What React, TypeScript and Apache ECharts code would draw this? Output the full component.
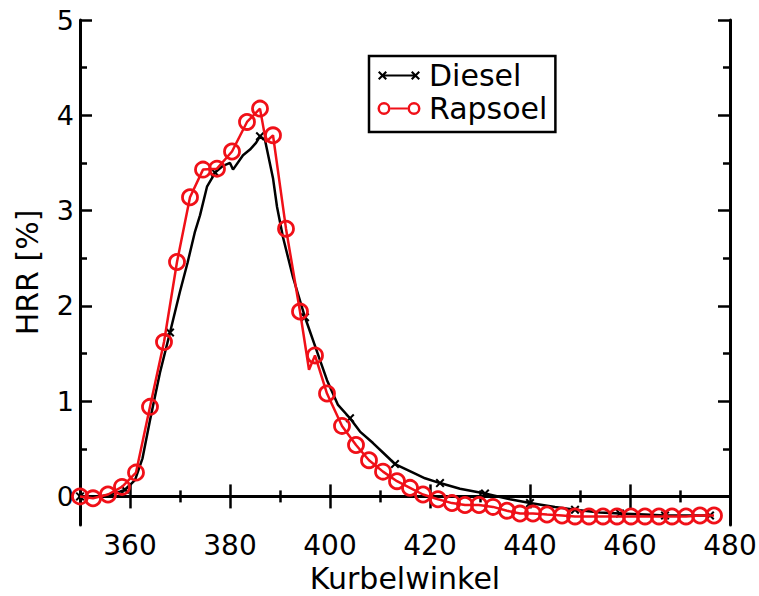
import React, { useEffect, useRef } from "react";
import * as echarts from "echarts";

// ---- data ----
const dieselAngle = [350, 352, 354, 356, 358, 359, 361, 362.5, 364, 366, 368, 370, 371.5, 373, 374, 375.4, 376.4, 377, 378.6, 380, 380.6, 382.6, 384, 385.2, 386, 387, 388.6, 389.4, 390.6, 392.6, 395, 397.4, 399.4, 401.6, 404, 406, 408.6, 411, 413, 416.6, 419, 422, 426, 431, 436, 440, 445, 449, 454, 458, 463, 467, 472, 476];
const dieselHRR = [0.0, 0.0, 0.0, 0.02, 0.05, 0.07, 0.17, 0.4, 0.8, 1.3, 1.72, 2.15, 2.45, 2.78, 2.95, 3.25, 3.34, 3.4, 3.47, 3.5, 3.43, 3.58, 3.64, 3.71, 3.78, 3.74, 3.34, 3.04, 2.72, 2.3, 1.88, 1.52, 1.22, 0.96, 0.82, 0.68, 0.56, 0.44, 0.34, 0.25, 0.19, 0.14, 0.08, 0.03, -0.03, -0.07, -0.11, -0.14, -0.17, -0.18, -0.19, -0.2, -0.2, -0.2];
const dieselMarked = [350, 359, 368, 377, 386, 395, 404, 413, 422, 431, 440, 449, 458, 467, 476];

const rapsoelAngle = [350, 352.6, 355.6, 358.4, 361.2, 364, 366.8, 369.4, 372, 374.6, 377.4, 380.4, 383.4, 386, 387.2, 388.6, 391.2, 394, 395.8, 397, 399.4, 402.4, 405.2, 407.8, 410.6, 413.4, 416, 418.6, 421.6, 424.4, 427, 429.8, 432.6, 435.4, 438, 440.6, 443.4, 446.4, 449, 451.8, 454.6, 457.4, 460.2, 463, 465.8, 468.4, 471.2, 474, 476.8];
const rapsoelHRR = [0.0, -0.02, 0.02, 0.1, 0.25, 0.94, 1.62, 2.46, 3.14, 3.43, 3.44, 3.62, 3.93, 4.07, 3.72, 3.79, 2.81, 1.94, 1.33, 1.48, 1.08, 0.74, 0.54, 0.38, 0.26, 0.16, 0.09, 0.02, -0.03, -0.07, -0.09, -0.09, -0.11, -0.15, -0.18, -0.18, -0.19, -0.2, -0.21, -0.21, -0.21, -0.21, -0.21, -0.21, -0.21, -0.21, -0.21, -0.2, -0.2];
const rapsoelUnmarked = [387.2, 395.8];

const seriesNames = ["Diesel", "Rapsoel"];
const xMajorTicks = [360, 380, 400, 420, 440, 460, 480];
const xMinorTicks = [370, 390, 410, 430, 450, 470];
const yMajorTicks = [0, 1, 2, 3, 4, 5];
const yMinorTicks = [0.5, 1.5, 2.5, 3.5, 4.5];
const xName = "Kurbelwinkel";
const yName = "HRR [%]";

const FONT = "DejaVu Sans";
const RED = "#f01018";

const xMarker =
  "path://M0,1.6L1.6,0L10,8.4L8.4,10Z M8.4,0L10,1.6L1.6,10L0,8.4Z";

const xArm = (cx: number, cy: number) =>
  `M${cx - 4.5},${cy - 3}L${cx - 3},${cy - 4.5}L${cx + 4.5},${cy + 3}L${cx + 3},${cy + 4.5}Z` +
  `M${cx + 3},${cy - 4.5}L${cx + 4.5},${cy - 3}L${cx - 3},${cy + 4.5}L${cx - 4.5},${cy + 3}Z`;
const dieselIcon =
  "path://M0,0L0.01,0Z M44,14L44.01,14Z " +
  xArm(5.5, 7) + xArm(38.5, 7) + "M5.5,6H38.5V8H5.5Z";
const ring = (cx: number) =>
  `M${cx - 6.5},7A6.5,6.5 0 1 1 ${cx + 6.5},7A6.5,6.5 0 1 1 ${cx - 6.5},7Z` +
  `M${cx - 4},7A4,4 0 1 0 ${cx + 4},7A4,4 0 1 0 ${cx - 4},7Z`;
const rapsoelIcon =
  "path://M0,0L0.01,0Z M44,14L44.01,14Z " + ring(7) + ring(37) + "M13.5,6H30.5V8H13.5Z";

export default function App() {
  const ref = useRef<HTMLDivElement>(null);
  useEffect(() => {
    if (!ref.current) return;
    const chart = echarts.init(ref.current, null, { renderer: "svg" });

    const dieselData = dieselAngle.map((a, i) => {
      const marked = dieselMarked.indexOf(a) >= 0;
      return marked
        ? { value: [a, dieselHRR[i]] }
        : { value: [a, dieselHRR[i]], symbol: "none" };
    });
    const rapsoelData = rapsoelAngle.map((a, i) => {
      const unmarked = rapsoelUnmarked.indexOf(a) >= 0;
      return unmarked
        ? { value: [a, rapsoelHRR[i]], symbol: "none" }
        : { value: [a, rapsoelHRR[i]] };
    });

    const axisLine = { show: true, lineStyle: { color: "#000", width: 3 } };
    const tickStyle = { color: "#000", width: 2.5 };

    const xBase = {
      type: "value",
      min: 350,
      max: 480,
      splitLine: { show: false },
      gridIndex: 0,
    };
    const yBase = {
      type: "value",
      min: -0.3,
      max: 5,
      splitLine: { show: false },
      gridIndex: 0,
    };

    chart.setOption({
      animation: false,
      backgroundColor: "#fff",
      grid: {
        left: 80,
        right: 29,
        top: 20,
        bottom: 71,
        containLabel: false,
        outerBoundsMode: "none",
      },
      legend: {
        orient: "vertical",
        left: 369,
        top: 56,
        padding: [4, 8, 8, 8],
        itemGap: 2,
        itemWidth: 44,
        itemHeight: 14,
        borderColor: "#000",
        borderWidth: 2.5,
        backgroundColor: "#fff",
        textStyle: {
          fontFamily: FONT,
          fontSize: 30,
          color: "#000",
          lineHeight: 31,
          padding: [0, 0, 0, 3],
        },
        data: [
          { name: seriesNames[0], icon: dieselIcon, itemStyle: { color: "#000", borderWidth: 0 } },
          { name: seriesNames[1], icon: rapsoelIcon, itemStyle: { color: RED, borderWidth: 0 } },
        ],
      },
      xAxis: [
        {
          ...xBase,
          position: "bottom",
          axisLine,
          axisTick: { show: true, inside: true, length: 12, customValues: xMajorTicks, lineStyle: tickStyle },
          axisLabel: {
            show: true,
            customValues: xMajorTicks,
            fontFamily: FONT,
            fontSize: 28,
            color: "#000",
            margin: 6,
          },
          name: xName,
          nameLocation: "middle",
          nameGap: 37,
          nameTextStyle: { fontFamily: FONT, fontSize: 30, color: "#000" },
        },
        {
          ...xBase,
          position: "bottom",
          axisLine: { show: false },
          axisTick: { show: true, inside: true, length: 6, customValues: xMinorTicks, lineStyle: tickStyle },
          axisLabel: { show: false },
        },
        {
          ...xBase,
          position: "top",
          axisLine,
          axisTick: { show: true, inside: true, length: 12, customValues: xMajorTicks, lineStyle: tickStyle },
          axisLabel: { show: false },
        },
        {
          ...xBase,
          position: "top",
          axisLine: { show: false },
          axisTick: { show: true, inside: true, length: 6, customValues: xMinorTicks, lineStyle: tickStyle },
          axisLabel: { show: false },
        },
      ],
      yAxis: [
        {
          ...yBase,
          position: "left",
          axisLine,
          axisTick: { show: true, inside: true, length: 12, customValues: yMajorTicks, lineStyle: tickStyle },
          axisLabel: {
            show: true,
            customValues: yMajorTicks,
            fontFamily: FONT,
            fontSize: 27,
            color: "#000",
            margin: 6,
          },
          name: yName,
          nameLocation: "middle",
          nameGap: 38,
          nameRotate: 90,
          nameTextStyle: { fontFamily: FONT, fontSize: 30, color: "#000" },
        },
        {
          ...yBase,
          position: "left",
          axisLine: { show: false },
          axisTick: { show: true, inside: true, length: 7, customValues: yMinorTicks, lineStyle: tickStyle },
          axisLabel: { show: false },
        },
        {
          ...yBase,
          position: "right",
          axisLine,
          axisTick: { show: true, inside: true, length: 12, customValues: yMajorTicks, lineStyle: tickStyle },
          axisLabel: { show: false },
        },
        {
          ...yBase,
          position: "right",
          axisLine: { show: false },
          axisTick: { show: true, inside: true, length: 7, customValues: yMinorTicks, lineStyle: tickStyle },
          axisLabel: { show: false },
        },
      ],
      series: [
        {
          name: seriesNames[0],
          type: "line",
          xAxisIndex: 0,
          yAxisIndex: 0,
          data: dieselData,
          symbol: xMarker,
          symbolSize: 9,
          showAllSymbol: true,
          lineStyle: { color: "#000", width: 2.5 },
          itemStyle: { color: "#000" },
          z: 2,
        },
        {
          name: seriesNames[1],
          type: "line",
          xAxisIndex: 0,
          yAxisIndex: 0,
          data: rapsoelData,
          symbol: "circle",
          symbolSize: 15,
          showAllSymbol: true,
          lineStyle: { color: RED, width: 2.5 },
          itemStyle: { color: "rgba(255,255,255,0)", borderColor: RED, borderWidth: 2.8 },
          z: 3,
        },
      ],
    });
    return () => chart.dispose();
  }, []);
  return (
    <div
      ref={ref}
      style={{ position: "fixed", left: 0, top: 0, width: 759, height: 596, background: "#fff" }}
    />
  );
}
